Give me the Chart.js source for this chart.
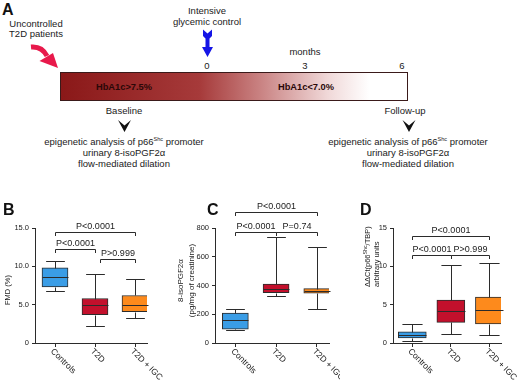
<!DOCTYPE html>
<html lang="en">
<head>
<meta charset="UTF-8"/>
<title>p66Shc, 8-isoPGF2α and FMD after intensive glycemic control</title>
<script src="https://cdn.jsdelivr.net/npm/chart.js@4"></script>
<style>
  body { margin:0; background:#fff; font-family:'Liberation Sans', Arial, sans-serif; }
  #fig { position:relative; width:520px; height:384px; overflow:hidden; }
  #timeline { position:absolute; left:0; top:0; }
  .panel { position:absolute; top:190px; }
</style>
</head>
<body>
<div id="fig">
  <!-- Panel A: study timeline -->
  <svg id="timeline" width="520" height="190" font-family="Liberation Sans, Arial, sans-serif">
    <defs>
      <linearGradient id="hba" x1="0" x2="1" y1="0" y2="0">
        <stop offset="0" stop-color="#8a1818"/>
        <stop offset="0.4" stop-color="#a63a3a"/>
        <stop offset="0.575" stop-color="#c98282"/>
        <stop offset="0.77" stop-color="#f0d8d8"/>
        <stop offset="0.89" stop-color="#ffffff"/>
      </linearGradient>
    </defs>
    <text x="2" y="15" font-size="16" font-weight="bold" fill="#111">A</text>
    <g font-size="9.5" text-anchor="middle" fill="#1a1a1a">
      <text x="36" y="26.5">Uncontrolled</text>
      <text x="36" y="36.5">T2D patients</text>
      <text x="207" y="13.5">Intensive</text>
      <text x="207" y="25">glycemic control</text>
      <text x="207" y="68.5">0</text>
      <text x="305" y="55">months</text>
      <text x="305" y="68.5">3</text>
      <text x="402" y="68.5">6</text>
      <text x="124" y="114">Baseline</text>
      <text x="405" y="114">Follow-up</text>
      <text x="124" y="144.5">epigenetic analysis of p66<tspan font-size="5.5" dy="-3.5">Shc</tspan><tspan dy="3.5"> promoter</tspan></text>
      <text x="124" y="156">urinary 8-isoPGF2α</text>
      <text x="124" y="167">flow-mediated dilation</text>
      <text x="408" y="144.5">epigenetic analysis of p66<tspan font-size="5.5" dy="-3.5">Shc</tspan><tspan dy="3.5"> promoter</tspan></text>
      <text x="408" y="156">urinary 8-isoPGF2α</text>
      <text x="408" y="167">flow-mediated dilation</text>
    </g>
    <rect x="60.5" y="72.5" width="347" height="28" fill="url(#hba)" stroke="#3a1a1a"/>
    <g font-size="9.3" font-weight="bold" text-anchor="middle" fill="#2a0808">
      <text x="124" y="90">HbA1c&gt;7.5%</text>
      <text x="306" y="90">HbA1c&lt;7.0%</text>
    </g>
    <!-- red arrow -->
    <path d="M31,47 Q42,46 47,56" stroke="#e8194b" stroke-width="5" fill="none"/>
    <polygon points="58,68 39.5,61 53,53" fill="#e8194b"/>
    <!-- blue arrow -->
    <polygon points="203,29.5 207.5,33.5 212,29.5 212,36 209.5,38.5 209.5,47 213,47 207.5,57 202,47 205.5,47 205.5,38.5 203,36" fill="#1515e6"/>
    <!-- chevrons -->
    <polygon points="118,120 124.5,125.5 131,120 124.5,132" fill="#111"/>
    <polygon points="402.5,120 409,125.5 415.5,120 409,132" fill="#111"/>
  </svg>
  <canvas id="chartB" class="panel" width="170" height="194" style="left:0"></canvas>
  <canvas id="chartC" class="panel" width="170" height="194" style="left:170px"></canvas>
  <canvas id="chartD" class="panel" width="180" height="194" style="left:340px"></canvas>
</div>

<script>
  const groups = ['Controls', 'T2D', 'T2D + IGC'];
  const boxFill = ['#3a9de6', '#c3102c', '#fd8a1c'];
  const ink = '#2b2b2b';

  // B: FMD (%)
  const fmdLow = [6.8, 2.2, 3.2];
  const fmdQ1 = [7.3, 3.7, 4.1];
  const fmdMedian = [8.6, 4.9, 4.9];
  const fmdQ3 = [9.8, 5.8, 6.2];
  const fmdHigh = [10.7, 9.0, 8.3];
  const fmdTicks = ['0', '5.0', '10.0', '15.0'];
  const fmdP = ['P<0.0001', 'P<0.0001', 'P>0.999'];
  const fmdBrackets = [[0, 2, 14.5], [0, 1, 12.3], [1.12, 2, 10.9]];

  // C: urinary 8-isoPGF2α
  const isoLow = [93, 325, 238];
  const isoQ1 = [97, 350, 346];
  const isoMedian = [160, 374, 364];
  const isoQ3 = [208, 410, 378];
  const isoHigh = [238, 735, 665];
  const isoTicks = ['0', '200', '400', '600', '800'];
  const isoP = ['P<0.0001', 'P<0.0001', 'P=0.74'];
  const isoBrackets = [[0, 2, 909], [0, 1, 775], [1, 2, 775]];

  // D: p66Shc expression
  const p66Low = [0.3, 1.2, 1.1];
  const p66Q1 = [0.65, 2.7, 2.5];
  const p66Median = [1.05, 4.2, 4.35];
  const p66Q3 = [1.45, 5.6, 6.0];
  const p66High = [2.5, 10.2, 10.5];
  const p66Ticks = ['0', '5', '10', '15'];
  const p66P = ['P<0.0001', 'P<0.0001', 'P>0.999'];
  const p66Brackets = [[0, 2, 13.9], [0, 1, 11.5], [1, 2, 11.5]];

  Chart.defaults.font.family = '"Liberation Sans", Arial, sans-serif';

  // whiskers, medians, brackets, slanted names, axis title, panel letter
  function boxLayer(cfg) {
    return {
      id: 'boxLayer',
      afterDatasetsDraw(chart) {
        const { ctx, chartArea, scales: { x, y } } = chart;
        const py = v => Math.round(y.getPixelForValue(v)) + 0.5;
        ctx.save();
        ctx.strokeStyle = ink; ctx.lineWidth = 1;
        chart.getDatasetMeta(0).data.forEach((bar, i) => {
          const cx = Math.round(bar.x) + 0.5, half = bar.width / 2, cap = bar.width * 0.36;
          ctx.beginPath();
          ctx.moveTo(cx - half, py(cfg.median[i])); ctx.lineTo(cx + half, py(cfg.median[i]));
          ctx.moveTo(cx, py(cfg.q3[i])); ctx.lineTo(cx, py(cfg.high[i]));
          ctx.moveTo(cx - cap, py(cfg.high[i])); ctx.lineTo(cx + cap, py(cfg.high[i]));
          ctx.moveTo(cx, py(cfg.q1[i])); ctx.lineTo(cx, py(cfg.low[i]));
          ctx.moveTo(cx - cap, py(cfg.low[i])); ctx.lineTo(cx + cap, py(cfg.low[i]));
          ctx.stroke();
        });

        ctx.font = '9px "Liberation Sans"'; ctx.fillStyle = '#1a1a1a';
        ctx.textAlign = 'center'; ctx.textBaseline = 'alphabetic';
        cfg.brackets.forEach(([a, b, h], k) => {
          const x1 = Math.round(x.getPixelForValue(a)) + 0.5;
          const x2 = Math.round(x.getPixelForValue(b)) + 0.5;
          const yy = py(h);
          ctx.beginPath();
          ctx.moveTo(x1, yy + 3.5); ctx.lineTo(x1, yy); ctx.lineTo(x2, yy); ctx.lineTo(x2, yy + 3.5);
          ctx.stroke();
          ctx.fillText(cfg.pLabels[k], (x1 + x2) / 2, yy - 4);
        });

        ctx.font = '8.5px "Liberation Sans"'; ctx.textAlign = 'left'; ctx.textBaseline = 'middle';
        groups.forEach((g, i) => {
          ctx.save();
          ctx.translate(x.getPixelForValue(i) - 3, chartArea.bottom + 7);
          ctx.rotate(Math.PI / 4);
          ctx.fillText(g, 0, 0);
          ctx.restore();
        });

        const t = cfg.title;
        const big = t.size + 'px "Liberation Sans"', small = (t.size * 0.7) + 'px "Liberation Sans"';
        t.lines.forEach((line, k) => {
          const parts = line.split('^');
          let total = 0;
          parts.forEach((p, j) => { ctx.font = j % 2 ? small : big; total += ctx.measureText(p).width; });
          ctx.save();
          ctx.translate(t.x[k], t.y);
          ctx.rotate(-Math.PI / 2);
          let pos = t.align === 'center' ? -total / 2 : 0;
          parts.forEach((p, j) => {
            ctx.font = j % 2 ? small : big;
            ctx.fillText(p, pos, j % 2 ? -2.5 : 0);
            pos += ctx.measureText(p).width;
          });
          ctx.restore();
        });

        ctx.font = 'bold 16px "Liberation Sans"'; ctx.fillStyle = '#111';
        ctx.textAlign = 'left'; ctx.textBaseline = 'alphabetic';
        ctx.fillText(cfg.letter[0], cfg.letter[1], cfg.letter[2]);
        ctx.restore();
      }
    };
  }

  function boxChart(id, cfg) {
    return new Chart(document.getElementById(id), {
      type: 'bar',
      data: {
        datasets: [{
          data: groups.map((g, i) => ({ x: i, y: [cfg.q1[i], cfg.q3[i]] })),
          backgroundColor: boxFill,
          borderColor: ink,
          borderWidth: 1,
          borderSkipped: false,
          barThickness: cfg.barWidth
        }]
      },
      options: {
        responsive: false,
        animation: false,
        layout: { padding: { top: 38, right: cfg.padRight, bottom: 0, left: 0 } },
        plugins: { legend: { display: false }, tooltip: { enabled: false } },
        scales: {
          x: {
            type: 'linear', min: -0.5, max: 2.3, offset: false,
            afterBuildTicks: s => { s.ticks = groups.map((g, i) => ({ value: i })); },
            afterFit: s => { s.height = 41; },
            ticks: { display: false },
            grid: { offset: false, drawOnChartArea: false, tickLength: 4, color: ink },
            border: { color: ink }
          },
          y: {
            min: 0, max: parseFloat(cfg.ticks[cfg.ticks.length - 1]),
            afterBuildTicks: s => { s.ticks = cfg.ticks.map(t => ({ value: parseFloat(t) })); },
            afterFit: s => { s.width = cfg.axisWidth; },
            ticks: { callback: (v, i) => cfg.ticks[i], font: { size: 7.5 }, color: '#1a1a1a', padding: 3 },
            grid: { drawOnChartArea: false, tickLength: 3, color: ink },
            border: { color: ink }
          }
        }
      },
      plugins: [boxLayer(cfg)]
    });
  }

  boxChart('chartB', {
    low: fmdLow, q1: fmdQ1, median: fmdMedian, q3: fmdQ3, high: fmdHigh,
    ticks: fmdTicks, pLabels: fmdP, brackets: fmdBrackets,
    barWidth: 26, axisWidth: 35, padRight: 23, letter: ['B', 3, 25],
    title: { lines: ['FMD (%)'], x: [8], y: 100, size: 7.5, align: 'center' }
  });
  boxChart('chartC', {
    low: isoLow, q1: isoQ1, median: isoMedian, q3: isoQ3, high: isoHigh,
    ticks: isoTicks, pLabels: isoP, brackets: isoBrackets,
    barWidth: 26, axisWidth: 45, padRight: 11, letter: ['C', 37, 25],
    title: { lines: ['8-isoPGF2α', '(pg/mg of creatinine)'], x: [11, 22], y: 90.5, size: 8, align: 'center' }
  });
  boxChart('chartD', {
    low: p66Low, q1: p66Q1, median: p66Median, q3: p66Q3, high: p66High,
    ticks: p66Ticks, pLabels: p66P, brackets: p66Brackets,
    barWidth: 28, axisWidth: 53, padRight: 19, letter: ['D', 20, 25],
    title: { lines: ['ΔΔCt(p66^Shc^/TBP)', 'arbitrary units'], x: [28, 37], y: 97, size: 7.5, align: 'start' }
  });
</script>
</body>
</html>
